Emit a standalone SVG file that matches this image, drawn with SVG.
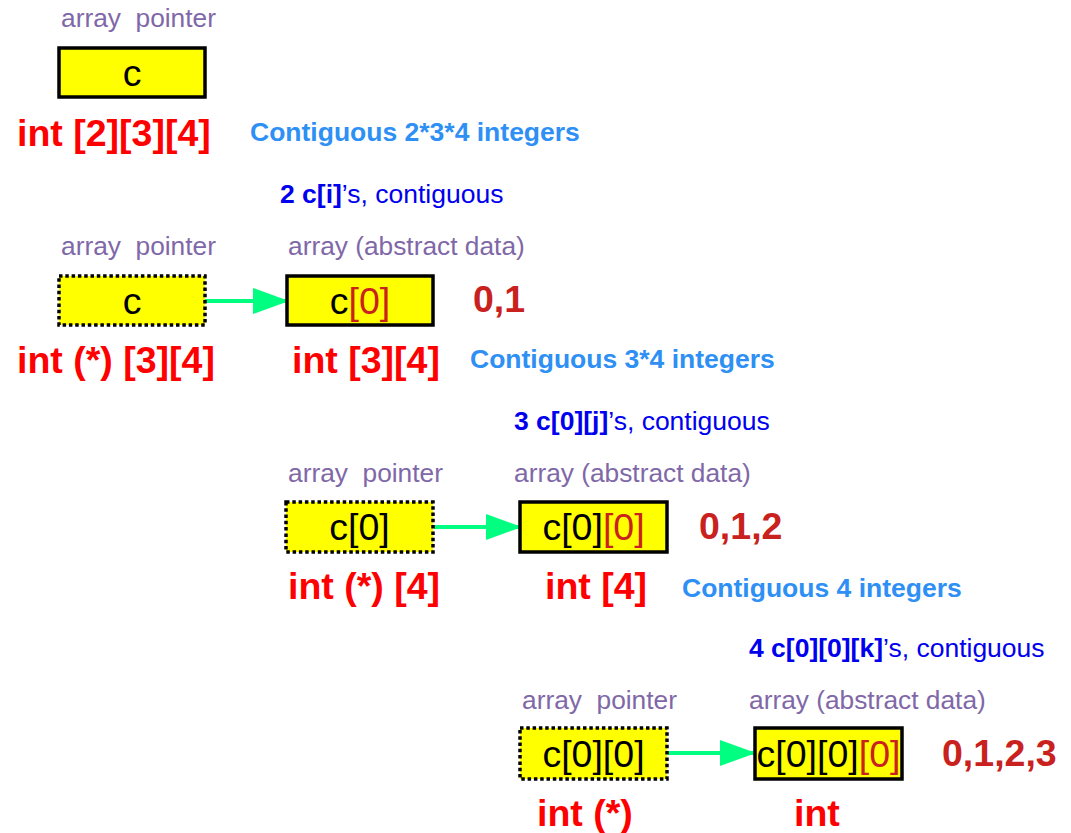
<svg xmlns="http://www.w3.org/2000/svg" width="1071" height="833" viewBox="0 0 1071 833">
<style>
.lbl{font-family:"Liberation Sans",Arial,sans-serif;font-size:26.3px;fill:#8068a8;white-space:pre}
.typ{font-family:"Liberation Sans",Arial,sans-serif;font-size:37.5px;font-weight:bold;fill:#ff0000}
.cont{font-family:"Liberation Sans",Arial,sans-serif;font-size:26.5px;font-weight:bold;fill:#2e8ff4}
.cnt{font-family:"Liberation Sans",Arial,sans-serif;font-size:26.5px;fill:#0000ee}
.cnt .b{font-weight:bold}
.idx{font-family:"Liberation Sans",Arial,sans-serif;font-size:37.5px;font-weight:bold;fill:#c9211e}
.box{fill:#ffff00;stroke:#000;stroke-width:3.5}
.ptr{fill:#ffff00;stroke:#000;stroke-width:3.5;stroke-dasharray:3.5 2.8}
.bt{font-family:"Liberation Sans",Arial,sans-serif;font-size:37.5px;fill:#000;text-anchor:middle}
.r{fill:#c9211e}
.conn{stroke:#00ff80;stroke-width:4;fill:none}
</style>
<defs>
<marker id="ah" markerUnits="userSpaceOnUse" markerWidth="38" markerHeight="26" refX="36" refY="13" orient="auto">
<path d="M0,0 L36,13 L0,26 Z" fill="#00ff80"/>
</marker>
</defs>

<g id="connectors">
<line class="conn" x1="205" y1="301" x2="289" y2="301" marker-end="url(#ah)"/>
<line class="conn" x1="434" y1="527" x2="522" y2="527" marker-end="url(#ah)"/>
<line class="conn" x1="668" y1="753" x2="756" y2="753" marker-end="url(#ah)"/>
</g>

<g id="row1">
<text class="lbl" x="61" y="27" xml:space="preserve">array  pointer</text>
<g id="node-c">
<rect class="box" x="59" y="48" width="146" height="49"/>
<text class="bt" x="132" y="86">c</text>
</g>
<text class="typ" x="17" y="146">int [2][3][4]</text>
<text class="cont" x="250" y="141">Contiguous 2*3*4 integers</text>
</g>

<g id="row2">
<text class="cnt" x="280" y="203"><tspan class="b">2 c[i]</tspan>’s, contiguous</text>
<text class="lbl" x="61" y="255" xml:space="preserve">array  pointer</text>
<text class="lbl" x="288" y="255">array (abstract data)</text>
<g id="node-ptr-c">
<rect class="ptr" x="59" y="276" width="146" height="49"/>
<text class="bt" x="132" y="314">c</text>
</g>
<g id="node-c0">
<rect class="box" x="287" y="276" width="146" height="49"/>
<text class="bt" x="360" y="314">c<tspan class="r">[0]</tspan></text>
</g>
<text class="idx" x="473" y="312">0,1</text>
<text class="typ" x="17" y="373">int (*) [3][4]</text>
<text class="typ" x="292" y="373">int [3][4]</text>
<text class="cont" x="470" y="368">Contiguous 3*4 integers</text>
</g>

<g id="row3">
<text class="cnt" x="514" y="430"><tspan class="b">3 c[0][j]</tspan>’s, contiguous</text>
<text class="lbl" x="288" y="482" xml:space="preserve">array  pointer</text>
<text class="lbl" x="514" y="482">array (abstract data)</text>
<g id="node-ptr-c0">
<rect class="ptr" x="286" y="502" width="147" height="50"/>
<text class="bt" x="359.5" y="540">c[0]</text>
</g>
<g id="node-c00">
<rect class="box" x="520" y="502" width="147" height="50"/>
<text class="bt" x="593.5" y="540">c[0]<tspan class="r">[0]</tspan></text>
</g>
<text class="idx" x="699" y="539">0,1,2</text>
<text class="typ" x="288" y="599">int (*) [4]</text>
<text class="typ" x="545" y="599">int [4]</text>
<text class="cont" x="682" y="597">Contiguous 4 integers</text>
</g>

<g id="row4">
<text class="cnt" x="749" y="657"><tspan class="b">4 c[0][0][k]</tspan>’s, contiguous</text>
<text class="lbl" x="522" y="709" xml:space="preserve">array  pointer</text>
<text class="lbl" x="749" y="709">array (abstract data)</text>
<g id="node-ptr-c00">
<rect class="ptr" x="520" y="728" width="147" height="51"/>
<text class="bt" x="593.5" y="767">c[0][0]</text>
</g>
<g id="node-c000">
<rect class="box" x="755" y="728" width="147" height="51"/>
<text class="bt" x="828.5" y="767">c[0][0]<tspan class="r">[0]</tspan></text>
</g>
<text class="idx" x="942" y="766">0,1,2,3</text>
<text class="typ" x="537" y="826">int (*)</text>
<text class="typ" x="794" y="826">int</text>
</g>
</svg>
